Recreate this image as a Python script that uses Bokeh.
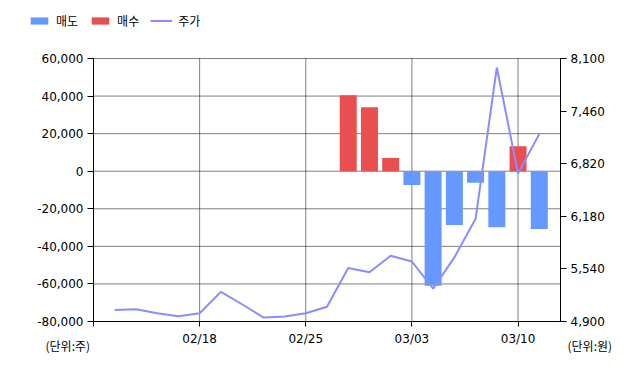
from bokeh.plotting import figure
from bokeh.models import (Range1d, LinearAxis, FixedTicker, NumeralTickFormatter,
                          Legend, LegendItem, Label, ColumnDataSource)
from bokeh.embed import file_html
from bokeh.resources import INLINE

dates = ["02/12", "02/13", "02/14", "02/17", "02/18", "02/19", "02/20", "02/21",
         "02/24", "02/25", "02/26", "02/27", "02/28", "03/02", "03/03", "03/04",
         "03/05", "03/06", "03/09", "03/10", "03/11"]
sell = [0, 0, 0, 0, 0, 0, 0, 0, 0, 0, 0, 0, 0, 0, -7300, -61000, -28600,
        -6200, -29800, 0, -30700]
buy = [0, 0, 0, 0, 0, 0, 0, 0, 0, 0, 0, 40500, 34000, 7000, 0, 0, 0,
       0, 0, 13300, 0]
price = [5040, 5050, 5000, 4965, 5000, 5260, 5110, 4950, 4960, 5000, 5080,
         5550, 5500, 5700, 5630, 5300, 5680, 6150, 7990, 6700, 7180]
label_dates = ["02/18", "02/25", "03/03", "03/10"]
left_ticks = [-80000, -60000, -40000, -20000, 0, 20000, 40000, 60000]
right_ticks = [4900, 5540, 6180, 6820, 7460, 8100]

FONT = "DejaVu Sans"
KFONT = "Noto Sans CJK KR"
BLUE, RED, LINE = "#6699ff", "#ea4f4f", "#8c8cff"

# page and plot-area geometry (pixels)
W, H = 640, 368
L, R, T, B = 93, 560, 58, 321

x_lo, x_hi = -1, len(dates)
y_lo, y_hi = left_ticks[0], left_ticks[-1]
p_lo, p_hi = right_ticks[0], right_ticks[-1]


def extend(lo, hi, a, b, total):
    s = (hi - lo) / (b - a)
    return lo - a * s, hi + (total - b) * s


xs, xe = extend(x_lo, x_hi, L, R, W)
ys, ye = extend(y_lo, y_hi, H - B, H - T, H)
ps, pe = extend(p_lo, p_hi, H - B, H - T, H)

idx = list(range(len(dates)))
src = ColumnDataSource(dict(x=idx, sell=sell, buy=buy, price=price))

p = figure(width=W, height=H, output_backend="svg", toolbar_location=None,
           x_range=Range1d(xs, xe), y_range=Range1d(ys, ye),
           x_axis_type=None, y_axis_type=None, min_border=0)
p.outline_line_color = None
p.background_fill_color = "white"
p.border_fill_color = "white"
p.grid.visible = False
p.extra_y_ranges = {"price": Range1d(ps, pe)}

# dotted grid lines at the tick positions, inside the plot area
xt = [-1] + [dates.index(d) for d in label_dates]
p.segment(x0=[x_lo] * len(left_ticks), x1=[x_hi] * len(left_ticks),
          y0=left_ticks, y1=left_ticks, line_color="black", line_width=1,
          line_dash="1 1")
p.segment(x0=xt[1:], x1=xt[1:], y0=[y_lo] * (len(xt) - 1), y1=[y_hi] * (len(xt) - 1),
          line_color="black", line_width=1, line_dash="1 1")

r_sell = p.vbar(x="x", top="sell", bottom=0, width=0.8, source=src,
                fill_color=BLUE, line_color=None)
r_buy = p.vbar(x="x", top="buy", bottom=0, width=0.8, source=src,
               fill_color=RED, line_color=None)
r_line = p.line(x="x", y="price", source=src, y_range_name="price",
                line_color=LINE, line_width=2)

ax_b = LinearAxis(fixed_location=y_lo, bounds=(x_lo, x_hi),
                  ticker=FixedTicker(ticks=xt),
                  major_label_overrides={dates.index(d): d for d in label_dates} | {-1: ""})
ax_l = LinearAxis(fixed_location=x_lo, bounds=(y_lo, y_hi),
                  ticker=FixedTicker(ticks=left_ticks),
                  formatter=NumeralTickFormatter(format="0,0"))
ax_r = LinearAxis(fixed_location=x_hi, bounds=(p_lo, p_hi), y_range_name="price",
                  ticker=FixedTicker(ticks=right_ticks),
                  formatter=NumeralTickFormatter(format="0,0"))
p.add_layout(ax_b, "below")
p.add_layout(ax_l, "left")
p.add_layout(ax_r, "right")

for ax in (ax_b, ax_l, ax_r):
    ax.axis_line_color = "black"
    ax.major_tick_line_color = "black"
    ax.minor_tick_line_color = None
    ax.major_tick_in = 0
    ax.major_tick_out = 6
    ax.major_label_text_font = FONT
    ax.major_label_text_font_size = "12px"
    ax.major_label_text_color = "black"
    ax.major_label_standoff = 4
ax_b.major_tick_out = 5
ax_b.major_label_standoff = 5

legend = Legend(items=[LegendItem(label="매도", renderers=[r_sell]),
                       LegendItem(label="매수", renderers=[r_buy]),
                       LegendItem(label="주가", renderers=[r_line])],
                orientation="horizontal", location=(28, H - 29),
                glyph_width=22, glyph_height=9, label_standoff=6, spacing=11,
                padding=0, margin=0, border_line_color=None,
                background_fill_alpha=0, label_text_font=KFONT,
                label_text_font_size="12px", label_text_color="black",
                label_height=12)
p.add_layout(legend, "center")

p.add_layout(Label(x=45, y=H - 353, x_units="screen", y_units="screen",
                   text="(단위:주)", text_font=KFONT, text_font_size="12px",
                   text_color="black"))
p.add_layout(Label(x=567, y=H - 353, x_units="screen", y_units="screen",
                   text="(단위:원)", text_font=KFONT, text_font_size="12px",
                   text_color="black"))

open("out.html", "w").write(file_html(p, INLINE))
